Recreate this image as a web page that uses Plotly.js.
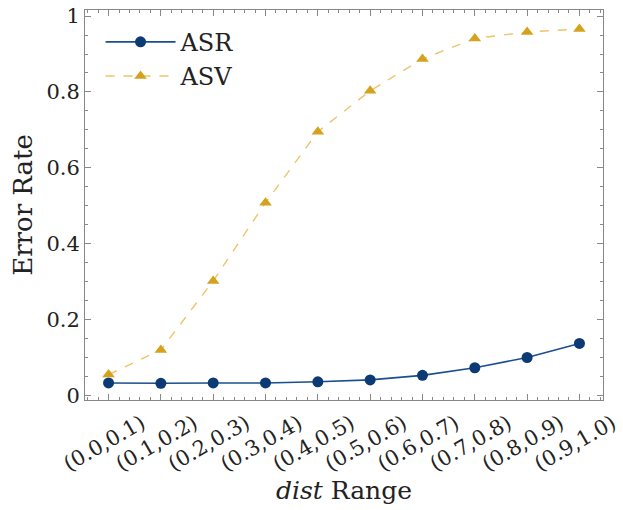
<!DOCTYPE html>
<html>
<head>
<meta charset="utf-8">
<script src="https://cdn.plot.ly/plotly-3.0.1.min.js"></script>
<style>html,body{margin:0;padding:0;background:#fff;}#chart{width:623px;height:510px;}</style>
</head>
<body>
<div id="chart"></div>
<script>
const categories = ["(0.0,0.1)","(0.1,0.2)","(0.2,0.3)","(0.3,0.4)","(0.4,0.5)","(0.5,0.6)","(0.6,0.7)","(0.7,0.8)","(0.8,0.9)","(0.9,1.0)"];
const asr = [0.033, 0.032, 0.033, 0.033, 0.036, 0.041, 0.053, 0.073, 0.100, 0.137];
const asv = [0.055, 0.120, 0.302, 0.508, 0.695, 0.803, 0.887, 0.941, 0.958, 0.966];
const yTicks = [0, 0.2, 0.4, 0.6, 0.8, 1];
const yTickText = ["0", "0.2", "0.4", "0.6", "0.8", "1"];

const xIdx = categories.map((_, i) => i);
const FONT = "DejaVu Serif, Liberation Serif, serif";

const traces = [
  {
    x: xIdx, y: asr, name: "ASR", type: "scatter", mode: "lines+markers",
    line: {color: "#1a4f8f", width: 1.6},
    marker: {symbol: "circle", size: 11, color: "#0c3a74"}
  },
  {
    x: xIdx, y: asv, name: "ASV", type: "scatter", mode: "lines+markers",
    line: {color: "#efc36a", width: 1.4, dash: "dash"},
    marker: {symbol: "triangle-up", size: 11, color: "#d4a21c"}
  }
];

const axisCommon = {
  showgrid: false, zeroline: false, showline: true, mirror: "ticks",
  linecolor: "#888", linewidth: 1, ticks: "inside", ticklen: 6,
  tickcolor: "#888", tickwidth: 1,
  tickfont: {family: FONT, size: 21, color: "#222"}
};

const layout = {
  width: 623, height: 510,
  margin: {l: 85, r: 20, t: 10, b: 110},
  paper_bgcolor: "#fff", plot_bgcolor: "#fff",
  showlegend: true,
  legend: {
    x: 0.03, y: 0.975, xanchor: "left", yanchor: "top",
    bgcolor: "rgba(0,0,0,0)", borderwidth: 0,
    font: {family: FONT, size: 24, color: "#222"},
    itemwidth: 70, tracegroupgap: 0
  },
  xaxis: Object.assign({}, axisCommon, {
    range: [-0.45, 9.45],
    tickmode: "array", tickvals: xIdx, ticktext: categories,
    tickfont: {family: FONT, size: 21, color: "#222"},
    tickangle: -30, ticklabelshift: 33, ticklabelstandoff: 2,
    ticklabeloverflow: "allow",
    minor: {ticks: "inside", ticklen: 3, dtick: 0.2, tick0: 0, tickcolor: "#888"},
    title: {text: "<i>dist</i> Range", font: {family: FONT, size: 25, color: "#222"}, standoff: 3}
  }),
  yaxis: Object.assign({}, axisCommon, {
    range: [-0.012, 1.016],
    tickmode: "array", tickvals: yTicks, ticktext: yTickText,
    minor: {ticks: "inside", ticklen: 3, dtick: 0.05, tick0: 0, tickcolor: "#888"},
    title: {text: "Error Rate", font: {family: FONT, size: 26, color: "#222"}, standoff: 6}
  })
};

Plotly.newPlot("chart", traces, layout, {staticPlot: true, displayModeBar: false});
</script>
</body>
</html>
